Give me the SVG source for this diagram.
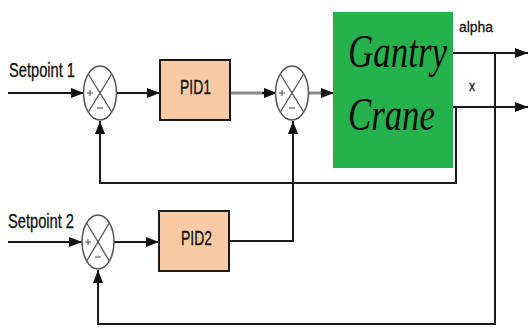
<svg xmlns="http://www.w3.org/2000/svg" width="529" height="327" viewBox="0 0 529 327">
  <style>
    .wire { fill: none; stroke: #1a1a1a; stroke-width: 2; }
    .gwire { fill: none; stroke: #8a8a8a; stroke-width: 3; }
    .pid { fill: #f8cba6; stroke: #1a1a1a; stroke-width: 2; }
    .sum { fill: #ffffff; stroke: #555555; stroke-width: 1.5; }
    .sumx { stroke: #555555; stroke-width: 1.3; }
    .sign { stroke: #666666; stroke-width: 1.2; }
    .lbl { font-family: "Liberation Sans", Arial, sans-serif; fill: #111111; stroke: #111111; stroke-width: 0.3; }
    .big { font-family: "Liberation Serif", "Times New Roman", serif; font-style: italic; font-size: 47px; fill: #0a0a0a; }
  </style>
  <defs>
    <marker id="arr" markerUnits="userSpaceOnUse" markerWidth="14" markerHeight="12" refX="13" refY="6" orient="auto">
      <path d="M0,1 L13,6 L0,11 Z" fill="#111111"/>
    </marker>
  </defs>
  <rect width="529" height="327" fill="#ffffff"/>

  <g id="connectors">
    <line class="wire" x1="8" y1="93" x2="84" y2="93" marker-end="url(#arr)"/>
    <line class="wire" x1="116" y1="93" x2="160" y2="93" marker-end="url(#arr)"/>
    <line class="gwire" x1="231" y1="93" x2="266" y2="93"/>
    <line class="wire" x1="262" y1="93" x2="277" y2="93" marker-end="url(#arr)"/>
    <line class="gwire" x1="308" y1="93" x2="326" y2="93"/>
    <line class="wire" x1="322" y1="93" x2="334" y2="93" marker-end="url(#arr)"/>
    <line class="wire" x1="453" y1="53" x2="528" y2="53" marker-end="url(#arr)"/>
    <line class="wire" x1="453" y1="107" x2="528" y2="107" marker-end="url(#arr)"/>
    <polyline class="wire" points="456,107 456,183 100,183 100,121" marker-end="url(#arr)"/>
    <polyline class="wire" points="229,241 293,241 293,121" marker-end="url(#arr)"/>
    <polyline class="wire" points="495,53 495,324 98,324 98,270" marker-end="url(#arr)"/>
    <line class="wire" x1="8" y1="242" x2="82" y2="242" marker-end="url(#arr)"/>
    <line class="wire" x1="114" y1="242" x2="159" y2="242" marker-end="url(#arr)"/>
  </g>

  <g id="sum1">
    <ellipse class="sum" cx="100" cy="93" rx="16.5" ry="27"/>
    <line class="sumx" x1="88.3" y1="74" x2="111.7" y2="112"/>
    <line class="sumx" x1="111.7" y1="74" x2="88.3" y2="112"/>
    <line class="sign" x1="87" y1="93" x2="93" y2="93"/>
    <line class="sign" x1="90" y1="90" x2="90" y2="96"/>
    <line class="sign" x1="97" y1="108" x2="103" y2="108"/>
  </g>

  <g id="pid1">
    <rect class="pid" x="160" y="60" width="70" height="60"/>
    <text class="lbl" x="180" y="94" font-size="21" textLength="31" lengthAdjust="spacingAndGlyphs">PID1</text>
  </g>

  <g id="sum2">
    <ellipse class="sum" cx="292" cy="93" rx="16.5" ry="27"/>
    <line class="sumx" x1="280.3" y1="74" x2="303.7" y2="112"/>
    <line class="sumx" x1="303.7" y1="74" x2="280.3" y2="112"/>
    <line class="sign" x1="279" y1="93" x2="285" y2="93"/>
    <line class="sign" x1="282" y1="90" x2="282" y2="96"/>
    <line class="sign" x1="289" y1="108" x2="295" y2="108"/>
  </g>

  <g id="gantry">
    <rect x="333" y="12" width="120" height="156" fill="#25b14c"/>
    <text class="big" transform="translate(348,67) scale(0.744,1)" x="0" y="0">Gantry</text>
    <text class="big" transform="translate(348,130) scale(0.74,1)" x="0" y="0">Crane</text>
  </g>

  <g id="out-labels">
    <text class="lbl" x="459" y="32" font-size="15" textLength="34" lengthAdjust="spacingAndGlyphs">alpha</text>
    <text class="lbl" x="469" y="91" font-size="14" textLength="6" lengthAdjust="spacingAndGlyphs">x</text>
  </g>

  <g id="setpoint1">
    <text class="lbl" x="9" y="77" font-size="20" textLength="66" lengthAdjust="spacingAndGlyphs">Setpoint 1</text>
  </g>

  <g id="setpoint2">
    <text class="lbl" x="8" y="228" font-size="20" textLength="66" lengthAdjust="spacingAndGlyphs">Setpoint 2</text>
  </g>

  <g id="sum3">
    <ellipse class="sum" cx="98" cy="242" rx="16" ry="27"/>
    <line class="sumx" x1="86.7" y1="223" x2="109.3" y2="261"/>
    <line class="sumx" x1="109.3" y1="223" x2="86.7" y2="261"/>
    <line class="sign" x1="85" y1="242" x2="91" y2="242"/>
    <line class="sign" x1="88" y1="239" x2="88" y2="245"/>
    <line class="sign" x1="95" y1="257" x2="101" y2="257"/>
  </g>

  <g id="pid2">
    <rect class="pid" x="159" y="211" width="70" height="60"/>
    <text class="lbl" x="181" y="245" font-size="21" textLength="31" lengthAdjust="spacingAndGlyphs">PID2</text>
  </g>
</svg>
